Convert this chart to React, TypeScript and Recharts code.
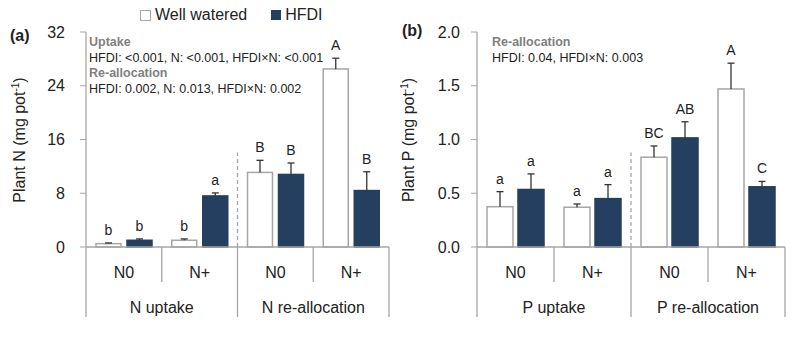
import React from 'react';
import { BarChart, Bar, XAxis, YAxis, Label } from 'recharts';

const categories = ['N0', 'N+', 'N0', 'N+'];
const groupsN = ['N uptake', 'N re-allocation'];
const groupsP = ['P uptake', 'P re-allocation'];
const seriesNames = ['Well watered', 'HFDI'];

const nWW = [0.5, 1.0, 11.1, 26.5];
const nWWErr = [0.1, 0.2, 1.8, 1.6];
const nWWLetters = ['b', 'b', 'B', 'A'];
const nHF = [1.0, 7.6, 10.8, 8.4];
const nHFErr = [0.2, 0.45, 1.7, 2.8];
const nHFLetters = ['b', 'a', 'B', 'B'];
const nTicks = [0, 8, 16, 24, 32];

const pWW = [0.375, 0.37, 0.835, 1.47];
const pWWErr = [0.14, 0.03, 0.105, 0.24];
const pWWLetters = ['a', 'a', 'BC', 'A'];
const pHF = [0.535, 0.45, 1.015, 0.56];
const pHFErr = [0.145, 0.13, 0.15, 0.05];
const pHFLetters = ['a', 'a', 'AB', 'C'];
const pTicks = [0, 0.5, 1.0, 1.5, 2.0];

const NAVY = '#243F60';
const GRID = '#A6A6A6';
const FONT = '"Liberation Sans", Arial, sans-serif';

const build = (ww: number[], wwE: number[], wwL: string[], hf: number[], hfE: number[], hfL: string[]) =>
  categories.map((c, i) => ({
    cat: c, ww: ww[i], wwErr: wwE[i], wwLetter: wwL[i], hf: hf[i], hfErr: hfE[i], hfLetter: hfL[i],
  }));

const dataN = build(nWW, nWWErr, nWWLetters, nHF, nHFErr, nHFLetters);
const dataP = build(pWW, pWWErr, pWWLetters, pHF, pHFErr, pHFLetters);

// bar + upward error bar + letter; pixels per unit taken from the bar's own height
const makeShape = (valKey: string, errKey: string, letterKey: string, fill: string, stroke: string) => (p: any) => {
  const { x, y, width, height, payload } = p;
  const v = payload[valKey];
  const k = v ? height / v : 0;
  const cx = x + width / 2;
  const top = y - payload[errKey] * k;
  return (
    <g>
      <rect x={x} y={y} width={width} height={height} fill={fill} stroke={stroke} strokeWidth={1.5} />
      <line x1={cx} y1={y} x2={cx} y2={top} stroke="#333" strokeWidth={1.3} />
      <line x1={cx - 3.5} y1={top} x2={cx + 3.5} y2={top} stroke="#333" strokeWidth={1.3} />
      <text x={cx} y={top - 8} textAnchor="middle" fontSize={14} fill="#222" fontFamily={FONT}>
        {payload[letterKey]}
      </text>
    </g>
  );
};

const makeTick = (groups: string[], band: number, plotH: number) => (p: any) => {
  const { x, y, payload } = p;
  const i = payload.index;
  const left = x - band / 2;
  const right = x + band / 2;
  return (
    <g>
      <text x={x} y={y + 31} textAnchor="middle" fontSize={16} fill="#222" fontFamily={FONT}>
        {payload.value}
      </text>
      {i === 0 && <line x1={left} y1={y} x2={left} y2={y + 70} stroke={GRID} strokeWidth={1.3} />}
      {(i === 0 || i === 2) && <line x1={right} y1={y} x2={right} y2={y + 35} stroke={GRID} strokeWidth={1.3} />}
      {(i === 1 || i === 3) && <line x1={right} y1={y} x2={right} y2={y + 70} stroke={GRID} strokeWidth={1.3} />}
      {i === 1 && (
        <line x1={right} y1={y} x2={right} y2={y - plotH * 0.44} stroke={GRID} strokeWidth={1.3} strokeDasharray="4 3" />
      )}
      {(i === 0 || i === 2) && (
        <text x={right} y={y + 66} textAnchor="middle" fontSize={16} fill="#222" fontFamily={FONT}>
          {groups[i / 2]}
        </text>
      )}
    </g>
  );
};

const Panel = ({ data, groups, ticks, domain, yLabel, labelX, left, right, barSize, barGap, tickMargin }: any) => {
  const W = 400;
  const H = 340;
  const top = 32;
  const bottom = 93;
  const band = (W - left - right) / categories.length;
  const plotH = H - top - bottom;
  return (
    <BarChart width={W} height={H} data={data} margin={{ top, right, bottom: 0, left: 0 }} barSize={barSize} barGap={barGap}>
      <XAxis dataKey="cat" height={bottom} axisLine={{ stroke: GRID, strokeWidth: 1.3 }} tickLine={false}
        tickSize={0} tickMargin={0} tick={makeTick(groups, band, plotH)} interval={0} />
      <XAxis xAxisId="t" dataKey="cat" orientation="top" height={0} tick={false} tickLine={false}
        axisLine={{ stroke: GRID, strokeWidth: 1.3 }} />
      <YAxis width={left} domain={domain} ticks={ticks} interval={0} tickSize={6} tickMargin={tickMargin}
        axisLine={{ stroke: GRID, strokeWidth: 1.3 }} tickLine={{ stroke: GRID }}
        tick={{ fontSize: 16, fill: '#222', fontFamily: FONT }}
        tickFormatter={(v: number) => (domain[1] < 5 ? v.toFixed(1) : String(v))}>
        <Label content={() => (
          <text x={0} y={0} transform={`translate(${labelX},140) rotate(-90)`} textAnchor="middle"
            fontSize={16} fill="#222" fontFamily={FONT}>
            {yLabel}
            <tspan dy={-6} fontSize={10}>-1</tspan>
            <tspan dy={6}>)</tspan>
          </text>
        )} />
      </YAxis>
      <YAxis yAxisId="r" orientation="right" width={0} tick={false} tickLine={false}
        axisLine={{ stroke: GRID, strokeWidth: 1.3 }} />
      <Bar dataKey="ww" name={seriesNames[0]} isAnimationActive={false}
        shape={makeShape('ww', 'wwErr', 'wwLetter', '#FFFFFF', GRID)} />
      <Bar dataKey="hf" name={seriesNames[1]} isAnimationActive={false}
        shape={makeShape('hf', 'hfErr', 'hfLetter', NAVY, NAVY)} />
    </BarChart>
  );
};

const txt: React.CSSProperties = { position: 'absolute', fontFamily: FONT, color: '#222', whiteSpace: 'nowrap' };
const bold: React.CSSProperties = { fontWeight: 'bold', color: '#7F7F7F' };

const App = () => (
  <div style={{ position: 'absolute', left: 0, top: 0, width: 800, height: 340, background: '#fff' }}>
    <div style={{ position: 'absolute', left: 0, top: 0 }}>
      <Panel data={dataN} groups={groupsN} ticks={nTicks} domain={[0, 32]} yLabel="Plant N (mg pot" labelX={25}
        left={86} right={11} barSize={25} barGap={6} tickMargin={15} />
    </div>
    <div style={{ position: 'absolute', left: 400, top: 0 }}>
      <Panel data={dataP} groups={groupsP} ticks={pTicks} domain={[0, 2]} yLabel="Plant P (mg pot" labelX={14}
        left={77} right={15} barSize={26} barGap={5} tickMargin={11} />
    </div>

    <div style={{ ...txt, left: 140, top: 6, fontSize: 16, display: 'flex', alignItems: 'center' }}>
      <span style={{ width: 9, height: 9, border: `1px solid ${GRID}`, background: '#fff', marginRight: 4 }} />
      {seriesNames[0]}
      <span style={{ width: 10, height: 10, background: NAVY, marginLeft: 24, marginRight: 4 }} />
      {seriesNames[1]}
    </div>

    <div style={{ ...txt, left: 10, top: 27, fontSize: 16, fontWeight: 'bold' }}>(a)</div>
    <div style={{ ...txt, left: 402, top: 22, fontSize: 16, fontWeight: 'bold' }}>(b)</div>

    <div style={{ ...txt, left: 89, top: 35, fontSize: 12.5, lineHeight: '15.5px' }}>
      <div style={bold}>Uptake</div>
      <div>HFDI: &lt;0.001, N: &lt;0.001, HFDI×N: &lt;0.001</div>
      <div style={bold}>Re-allocation</div>
      <div>HFDI: 0.002, N: 0.013, HFDI×N: 0.002</div>
    </div>
    <div style={{ ...txt, left: 492, top: 35, fontSize: 12.5, lineHeight: '15.5px' }}>
      <div style={bold}>Re-allocation</div>
      <div>HFDI: 0.04, HFDI×N: 0.003</div>
    </div>
  </div>
);

export default App;
